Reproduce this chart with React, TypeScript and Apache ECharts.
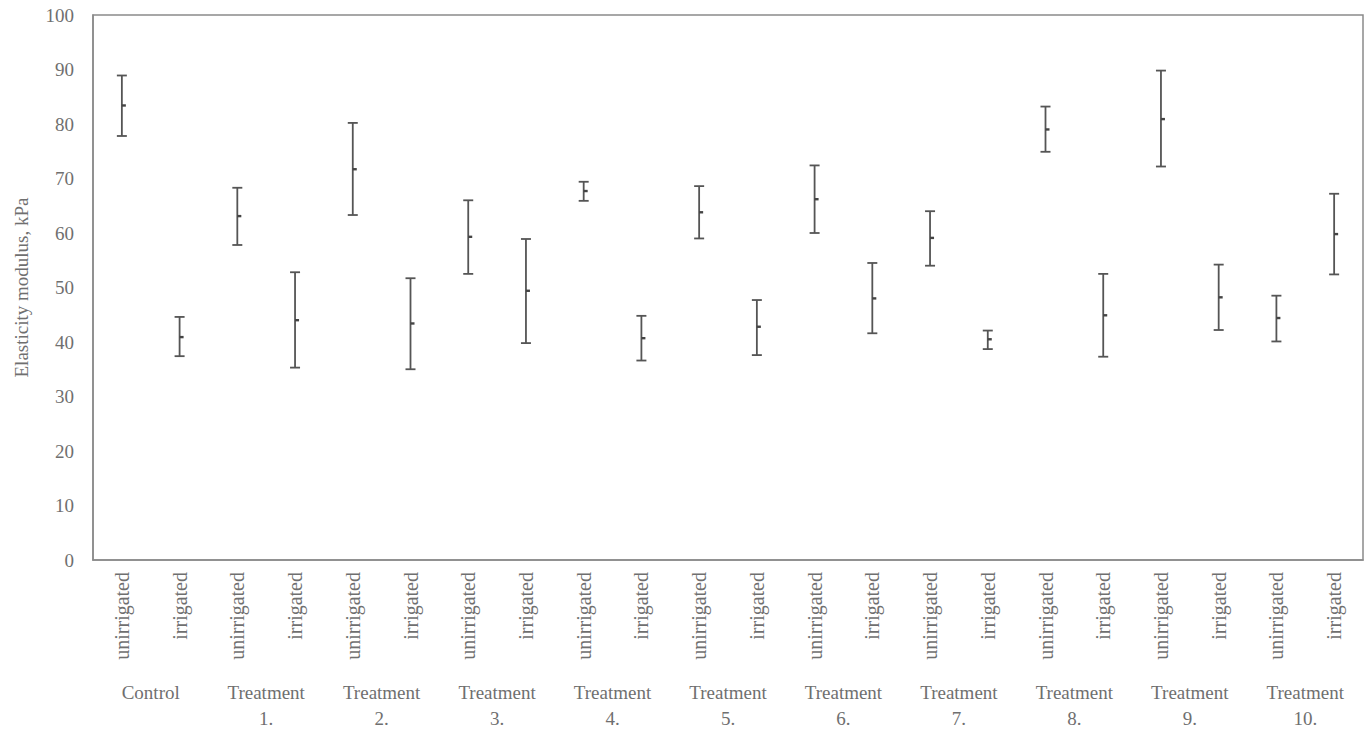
import React, { useEffect, useRef } from "react";
import * as echarts from "echarts";

const categories = [
  "unirrigated", "irrigated", "unirrigated", "irrigated", "unirrigated", "irrigated",
  "unirrigated", "irrigated", "unirrigated", "irrigated", "unirrigated", "irrigated",
  "unirrigated", "irrigated", "unirrigated", "irrigated", "unirrigated", "irrigated",
  "unirrigated", "irrigated", "unirrigated", "irrigated",
];

const groups = [
  "Control", "Treatment\n1.", "Treatment\n2.", "Treatment\n3.", "Treatment\n4.",
  "Treatment\n5.", "Treatment\n6.", "Treatment\n7.", "Treatment\n8.", "Treatment\n9.",
  "Treatment\n10.",
];

const lows = [77.8, 37.4, 57.8, 35.3, 63.3, 35.0, 52.5, 39.8, 65.9, 36.6, 59.0, 37.6, 60.0, 41.6, 54.0, 38.7, 74.9, 37.3, 72.2, 42.2, 40.1, 52.4];
const means = [83.4, 40.9, 63.1, 44.0, 71.7, 43.4, 59.3, 49.4, 67.7, 40.7, 63.8, 42.8, 66.2, 48.0, 59.1, 40.5, 79.0, 44.9, 80.9, 48.2, 44.4, 59.8];
const highs = [88.9, 44.6, 68.3, 52.8, 80.2, 51.7, 66.0, 58.9, 69.4, 44.8, 68.6, 47.7, 72.4, 54.5, 64.0, 42.1, 83.2, 52.5, 89.8, 54.2, 48.5, 67.2];

const yTicks = { min: 0, max: 100, interval: 10 };

const FONT = "'Liberation Serif', 'DejaVu Serif', serif";
const TEXT = "#6f6f6f";
const LINE = "#555555";

if (typeof document !== "undefined") {
  document.body.style.margin = "0";
  document.body.style.overflow = "hidden";
}

export default function App() {
  const ref = useRef<HTMLDivElement>(null);

  useEffect(() => {
    document.body.style.margin = "0";
    document.body.style.overflow = "hidden";
    if (!ref.current) return;
    const chart = echarts.init(ref.current, null, { renderer: "svg" });
    const data = categories.map((_, i) => [i, lows[i], means[i], highs[i]]);
    chart.setOption({
      animation: false,
      backgroundColor: "#ffffff",
      grid: {
        left: 93,
        right: 8,
        top: 15,
        bottom: 161,
        show: true,
        borderColor: "#8a8a8a",
        borderWidth: 1.5,
      },
      xAxis: [
        {
          type: "category",
          data: categories,
          boundaryGap: true,
          axisLine: { show: true, lineStyle: { color: "#8a8a8a", width: 1.5 } },
          axisTick: { show: false },
          axisLabel: {
            rotate: 90,
            margin: 12,
            interval: 0,
            fontFamily: FONT,
            fontSize: 20,
            color: TEXT,
          },
        },
        {
          type: "category",
          data: groups,
          position: "bottom",
          boundaryGap: true,
          axisLine: { show: false },
          axisTick: { show: false },
          axisLabel: {
            interval: 0,
            margin: 119,
            fontFamily: FONT,
            fontSize: 19,
            lineHeight: 26,
            color: TEXT,
          },
        },
      ],
      yAxis: {
        type: "value",
        min: yTicks.min,
        max: yTicks.max,
        interval: yTicks.interval,
        name: "Elasticity modulus, kPa",
        nameLocation: "middle",
        nameGap: 62,
        nameRotate: 90,
        nameTextStyle: { fontFamily: FONT, fontSize: 19, color: TEXT },
        axisLine: { show: true, lineStyle: { color: "#8a8a8a", width: 1.5 } },
        axisTick: { show: false },
        splitLine: { show: false },
        axisLabel: { margin: 19, fontFamily: FONT, fontSize: 19, color: TEXT },
      },
      series: [
        {
          type: "custom",
          xAxisIndex: 0,
          data,
          encode: { x: 0, y: [1, 2, 3] },
          renderItem: (params: any, api: any) => {
            const x = api.value(0);
            const lo = api.coord([x, api.value(1)]);
            const mid = api.coord([x, api.value(2)]);
            const hi = api.coord([x, api.value(3)]);
            const cap = 5;
            const style = { stroke: LINE, lineWidth: 1.8 };
            return {
              type: "group",
              children: [
                { type: "line", shape: { x1: hi[0], y1: hi[1], x2: lo[0], y2: lo[1] }, style },
                { type: "line", shape: { x1: hi[0] - cap, y1: hi[1], x2: hi[0] + cap, y2: hi[1] }, style },
                { type: "line", shape: { x1: lo[0] - cap, y1: lo[1], x2: lo[0] + cap, y2: lo[1] }, style },
                {
                  type: "line",
                  shape: { x1: mid[0], y1: mid[1], x2: mid[0] + 4, y2: mid[1] },
                  style: { stroke: "#444", lineWidth: 2.4 },
                },
              ],
            };
          },
        },
      ],
    });
    return () => chart.dispose();
  }, []);

  return <div ref={ref} style={{ width: 1371, height: 731 }} />;
}
